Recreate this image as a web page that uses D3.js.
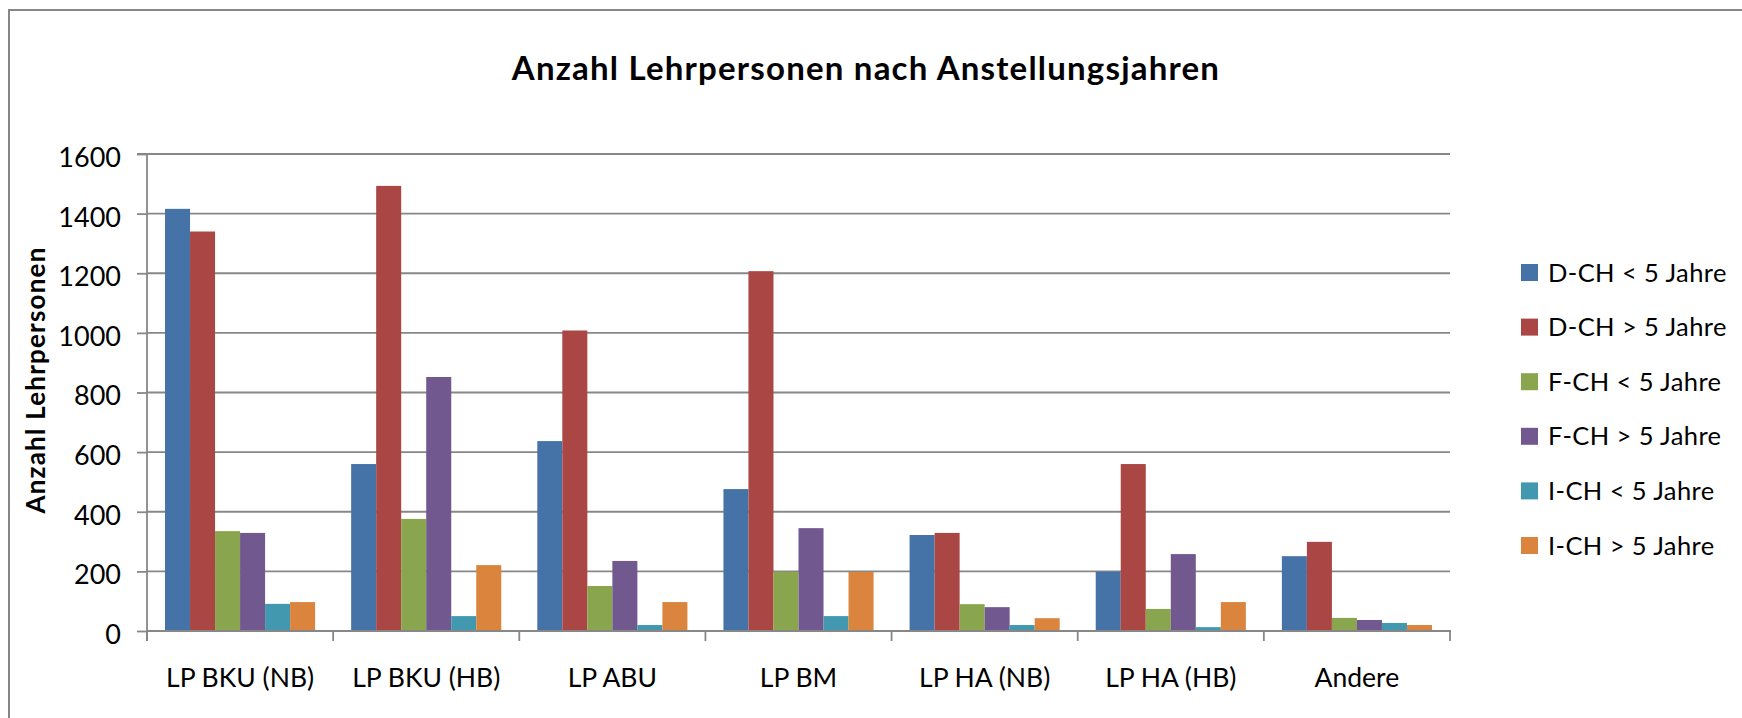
<!DOCTYPE html>
<html>
<head>
<meta charset="utf-8">
<script src="https://cdn.jsdelivr.net/npm/d3@7"></script>
<style>
  html, body { margin: 0; padding: 0; background: #fff; }
  svg { display: block; }
  text { font-family: Lato, "Open Sans", sans-serif; fill: #000; }
</style>
</head>
<body>
<svg id="chart" width="1742" height="718"></svg>
<script>
// ---- data ----
const title = "Anzahl Lehrpersonen nach Anstellungsjahren";
const yAxisTitle = "Anzahl Lehrpersonen";
const categories = ["LP BKU (NB)", "LP BKU (HB)", "LP ABU", "LP BM", "LP HA (NB)", "LP HA (HB)", "Andere"];
const seriesNames = ["D-CH < 5 Jahre", "D-CH > 5 Jahre", "F-CH < 5 Jahre", "F-CH > 5 Jahre", "I-CH < 5 Jahre", "I-CH > 5 Jahre"];
const dchLess5 = [1416, 560, 637, 476, 322, 199, 251];
const dchMore5 = [1340, 1493, 1008, 1207, 329, 560, 299];
const fchLess5 = [335, 376, 151, 199, 90, 74, 44];
const fchMore5 = [329, 852, 235, 345, 80, 258, 37];
const ichLess5 = [91, 50, 20, 50, 20, 13, 27];
const ichMore5 = [97, 221, 97, 198, 43, 97, 20];
const yTicks = [0, 200, 400, 600, 800, 1000, 1200, 1400, 1600];
const colors = ["#4572A7", "#AA4643", "#89A54E", "#71588F", "#4198AF", "#DB843D"];

const seriesValues = [dchLess5, dchMore5, fchLess5, fchMore5, ichLess5, ichMore5];

// ---- layout ----
const W = 1742, H = 718;
const plot = { left: 147, right: 1450, top: 154, bottom: 631 };
const gridColor = "#878787";

const svg = d3.select("#chart");

// chart area border (only left/top visible in the crop)
svg.append("rect")
  .attr("x", 9).attr("y", 10)
  .attr("width", W + 20).attr("height", H + 20)
  .attr("fill", "#fff")
  .attr("stroke", "#868686").attr("stroke-width", 2);

const x0 = d3.scaleBand().domain(categories).range([plot.left, plot.right]).padding(0);
const innerPad = 18 / 186;
const barGroupScale = d3.scaleBand().domain(seriesNames)
  .range([x0.bandwidth() * innerPad, x0.bandwidth() * (1 - innerPad)]).padding(0);

const y = d3.scaleLinear().domain([0, 1600]).range([plot.bottom, plot.top]);

// gridlines
svg.append("g")
  .selectAll("line")
  .data(yTicks.filter(d => d > 0))
  .join("line")
  .attr("x1", plot.left).attr("x2", plot.right)
  .attr("y1", d => y(d)).attr("y2", d => y(d))
  .attr("stroke", gridColor).attr("stroke-width", 1.8);

// bars
const groups = svg.append("g")
  .selectAll("g")
  .data(categories)
  .join("g")
  .attr("transform", d => `translate(${x0(d)},0)`);

groups.selectAll("rect")
  .data((c, ci) => seriesNames.map((s, si) => ({ s, si, v: seriesValues[si][ci] })))
  .join("rect")
  .attr("x", d => barGroupScale(d.s))
  .attr("width", barGroupScale.bandwidth())
  .attr("y", d => y(d.v))
  .attr("height", d => y(0) - y(d.v))
  .attr("fill", d => colors[d.si]);

// y axis
const yAxis = d3.axisLeft(y).tickValues(yTicks).tickSize(10).tickPadding(16).tickFormat(d3.format("d"));
const yAxisG = svg.append("g").attr("transform", `translate(${plot.left},0)`).call(yAxis);
yAxisG.select(".domain").attr("stroke", gridColor).attr("stroke-width", 1.8)
  .attr("d", `M-10,${plot.top}H0V${plot.bottom + 10}`);
yAxisG.selectAll(".tick line").attr("stroke", gridColor).attr("stroke-width", 1.8);
yAxisG.selectAll(".tick text")
  .attr("font-family", "Lato").attr("font-size", 27).attr("fill", "#000")
  .attr("dy", "0.46em");

// x axis
const xAxisG = svg.append("g").attr("transform", `translate(0,${plot.bottom})`);
xAxisG.append("line")
  .attr("x1", plot.left).attr("x2", plot.right + 1)
  .attr("stroke", gridColor).attr("stroke-width", 1.8);
const boundaries = categories.map(c => x0(c)).concat([plot.right]);
xAxisG.selectAll("line.tk")
  .data(boundaries)
  .join("line").attr("class", "tk")
  .attr("x1", d => d).attr("x2", d => d)
  .attr("y1", 0).attr("y2", 10)
  .attr("stroke", gridColor).attr("stroke-width", 1.8);
xAxisG.selectAll("text")
  .data(categories)
  .join("text")
  .attr("x", d => x0(d) + x0.bandwidth() / 2)
  .attr("y", 56)
  .attr("text-anchor", "middle")
  .attr("font-size", 26.5)
  .text(d => d);

// title
svg.append("text")
  .attr("x", 866).attr("y", 80)
  .attr("text-anchor", "middle")
  .attr("font-weight", "bold")
  .attr("font-size", 33)
  .attr("letter-spacing", 1.2)
  .text(title);

// y axis title
svg.append("text")
  .attr("transform", `translate(45,380) rotate(-90)`)
  .attr("text-anchor", "middle")
  .attr("font-weight", "bold")
  .attr("font-size", 26)
  .attr("letter-spacing", 1.2)
  .text(yAxisTitle);

// legend
const legend = svg.append("g").attr("transform", "translate(1521,264)");
const li = legend.selectAll("g")
  .data(seriesNames)
  .join("g")
  .attr("transform", (d, i) => `translate(0,${i * 54.6})`);
li.append("rect").attr("width", 17).attr("height", 17).attr("fill", (d, i) => colors[i]);
li.append("text")
  .attr("x", 27).attr("y", 8.5).attr("dy", "0.36em")
  .attr("font-size", 25.5)
  .attr("letter-spacing", 0.4)
  .text(d => d);
</script>
</body>
</html>
